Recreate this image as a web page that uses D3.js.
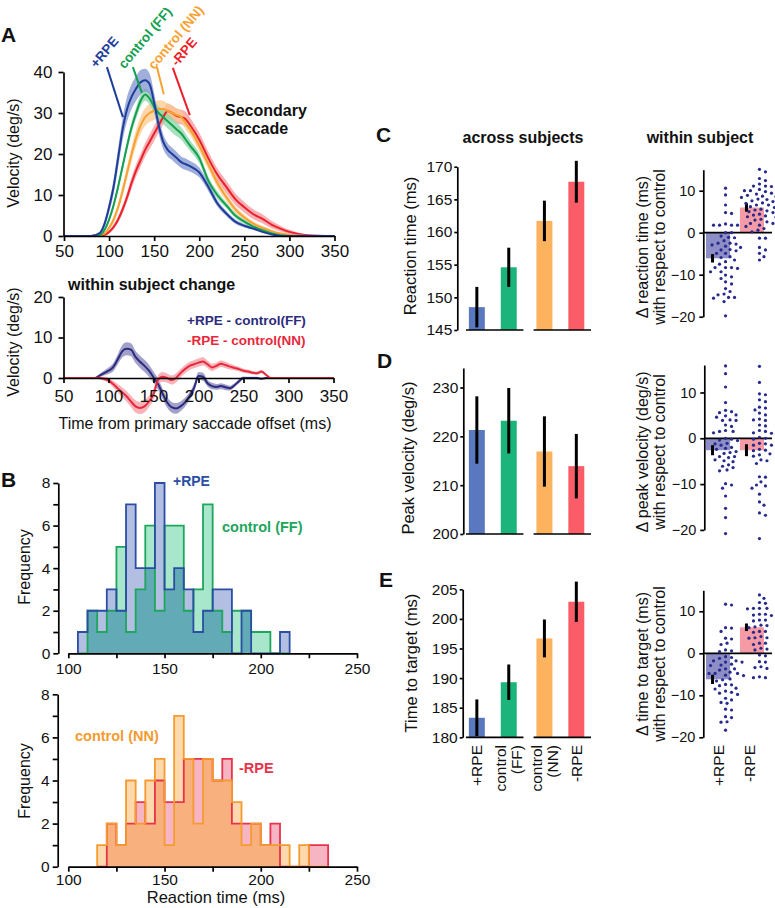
<!DOCTYPE html>
<html>
<head>
<meta charset="utf-8">
<script src="https://cdn.jsdelivr.net/npm/d3@7"></script>
<style>
  body { margin: 0; background: #fff; }
</style>
</head>
<body>
<svg id="fig" width="775" height="908"></svg>
<script>
/***********************************************************************/
// Data

// A (top): mean velocity of the secondary saccade, with s.e.m.
var tA = [50, 80, 90, 95, 100, 105, 110, 115, 120, 125, 130, 135, 140, 145, 150, 155, 160, 165, 170, 175, 180, 185, 190, 200, 210, 220, 230, 240, 250, 260, 270, 280, 290, 300, 310, 320, 350];
var velPlus  = [0, 0, 0.8, 3, 7, 12, 19, 26, 31, 34, 36, 37.5, 38, 37, 32.5, 27, 23, 21, 20, 19, 18, 17.5, 17, 15.5, 12, 8, 5.5, 3.5, 2.5, 1.8, 1, 0.4, 0, 0, 0, 0, 0];
var velFF    = [0, 0, 0.3, 1.5, 4, 7.5, 12, 17, 22, 26.5, 30, 33, 34.5, 33.5, 31.5, 30, 29, 28, 27, 26, 25, 23.5, 22, 19, 13.5, 10, 7.5, 5, 3.5, 2.3, 1.4, 0.7, 0.2, 0, 0, 0, 0];
var velNN    = [0, 0, 0.2, 0.6, 2, 4, 7, 11, 15.5, 20, 24, 27, 29, 30, 30.5, 31, 31, 30.5, 30, 29.5, 29, 27.5, 26, 22, 17.5, 13, 9.5, 6.5, 4.5, 3, 2, 1.2, 0.6, 0.3, 0.1, 0, 0];
var velMinus = [0, 0, 0.1, 0.3, 1, 2.2, 4, 6.5, 9.5, 13, 16, 18.5, 21, 23, 25, 27, 29, 30.5, 30, 29.3, 29, 28.5, 27, 23.5, 19, 15, 12, 9, 7, 5.3, 4.2, 2.8, 1.8, 1, 0.5, 0.2, 0];
var sePlus   = [0, 0, 0.3, 0.8, 1.3, 1.8, 2.3, 2.7, 3, 3, 3, 3, 2.8, 2.6, 2.3, 2, 1.8, 1.6, 1.5, 1.5, 1.4, 1.4, 1.3, 1.2, 1, 0.8, 0.6, 0.5, 0.4, 0.3, 0.2, 0.1, 0, 0, 0, 0, 0];
var seFF     = [0, 0, 0.1, 0.4, 0.6, 0.8, 1, 1.1, 1.2, 1.3, 1.4, 1.5, 1.5, 1.5, 1.5, 1.6, 1.7, 1.8, 1.8, 1.7, 1.5, 1.4, 1.3, 1.2, 1, 0.9, 0.7, 0.6, 0.5, 0.4, 0.3, 0.2, 0.1, 0, 0, 0, 0];
var seNN     = [0, 0, 0.1, 0.3, 0.5, 0.8, 1, 1.3, 1.5, 1.8, 2, 2.1, 2.2, 2.2, 2.2, 2.1, 2, 1.8, 1.7, 1.6, 1.5, 1.5, 1.4, 1.3, 1.2, 1.1, 1, 0.8, 0.7, 0.6, 0.5, 0.4, 0.3, 0.2, 0.1, 0, 0];
var seMinus  = [0, 0, 0.1, 0.2, 0.4, 0.6, 0.8, 1, 1.2, 1.4, 1.5, 1.6, 1.7, 1.8, 1.8, 1.8, 1.8, 1.8, 1.8, 1.8, 1.8, 1.8, 1.8, 1.7, 1.6, 1.5, 1.5, 1.4, 1.3, 1.2, 1.1, 0.9, 0.7, 0.5, 0.3, 0.1, 0];
var velTicks  = [0, 10, 20, 30, 40];
var timeTicks = [50, 100, 150, 200, 250, 300, 350];

// A (bottom): within subject change
var tD = [50, 80, 85, 90, 95, 100, 105, 110, 115, 120, 125, 130, 135, 140, 145, 150, 155, 160, 165, 170, 175, 180, 185, 190, 195, 200, 205, 210, 215, 220, 225, 230, 235, 240, 245, 250, 255, 260, 265, 270, 275, 280, 285, 290, 350];
var diffPlus  = [0, 0, 0, 0.6, 1.2, 1.8, 2.6, 4.5, 6.5, 7.2, 7, 5.2, 4, 3, 1.8, 0.2, -1.5, -3.8, -6, -7.2, -7.5, -7, -6, -4.5, -2.5, 0.5, 0.3, -1.3, -2, -2.2, -2, -2.3, -2.5, -1.8, -0.8, 0, 0, 0, 0, -0.2, 0, 0, 0, 0, 0];
var diffMinus = [0, 0, 0, 0, -0.2, -0.6, -1.5, -2.5, -3.5, -4.5, -5.8, -7, -7.4, -7, -5.8, -4, -0.5, 0.3, 0, -0.5, 0, 1.2, 2.2, 3, 3.4, 3.8, 4.1, 3.4, 2.6, 3, 3.5, 3.2, 2.8, 2.5, 2.2, 1.8, 1.6, 1.3, 1.2, 1.6, 0.8, 0, 0, 0, 0];
var seDiffPlus  = [0, 0, 0.2, 0.4, 0.6, 0.8, 1, 1.2, 1.5, 1.6, 1.6, 1.5, 1.5, 1.5, 1.5, 1.4, 1.4, 1.3, 1.3, 1.3, 1.3, 1.2, 1.1, 1, 1, 1, 1, 0.8, 0.8, 0.7, 0.7, 0.7, 0.6, 0.5, 0.5, 0.4, 0.3, 0.3, 0.3, 0.2, 0.2, 0.1, 0.1, 0, 0];
var seDiffMinus = [0, 0, 0.2, 0.3, 0.5, 0.6, 0.8, 1, 1.2, 1.3, 1.4, 1.5, 1.5, 1.5, 1.4, 1.3, 1.2, 1.2, 1.1, 1.1, 1.1, 1, 1, 1, 1, 1, 1, 0.9, 0.9, 0.8, 0.8, 0.8, 0.7, 0.6, 0.6, 0.5, 0.5, 0.4, 0.4, 0.4, 0.3, 0.2, 0.1, 0, 0];
var diffTicks = [0, 10, 20];

// B: reaction time histograms (5 ms bins, left edges)
var binsTop    = [105, 110, 115, 120, 125, 130, 135, 140, 145, 150, 155, 160, 165, 170, 175, 180, 185, 190, 195, 200, 205, 210];
var histPlus   = [1, 2, 2, 3, 2, 7, 4, 4, 8, 3, 4, 3, 1, 2, 3, 3, 0, 2, 0, 0, 0, 1];
var histFF     = [0, 2, 1, 2, 5, 1, 3, 6, 2, 6, 6, 2, 3, 7, 2, 1, 2, 2, 1, 1, 0, 0];
var binsBottom = [115, 120, 125, 130, 135, 140, 145, 150, 155, 160, 165, 170, 175, 180, 185, 190, 195, 200, 205, 210, 215, 220, 225, 230];
var histNN     = [1, 2, 1, 4, 2, 4, 5, 1, 7, 5, 2, 5, 4, 4, 3, 1, 2, 1, 1, 1, 0, 1, 0, 0];
var histMinus  = [0, 2, 1, 2, 3, 2, 4, 3, 3, 5, 5, 5, 4, 5, 2, 2, 2, 1, 2, 0, 0, 0, 1, 1];
var freqTicks = [0, 1, 2, 3, 4, 5, 6, 7, 8];
var rtTicks   = [100, 125, 150, 175, 200, 225, 250];

// C-E across subjects
var conditions = ['+RPE', 'control (FF)', 'control (NN)', '-RPE'];
var condGroup  = ['FF', 'FF', 'NN', 'NN'];
var rtMean = [148.5, 154.6, 161.7, 167.7];
var rtErr  = [3.1, 3.0, 3.1, 3.2];
var pvMean = [221.3, 223.2, 216.9, 213.9];
var pvErr  = [6.9, 6.7, 7.2, 6.6];
var ttMean = [183.3, 189.3, 196.7, 202.9];
var ttErr  = [3.1, 3.0, 3.2, 3.4];
var rtTicksC = [145, 150, 155, 160, 165, 170];
var pvTicksD = [200, 210, 220, 230];
var ttTicksE = [180, 185, 190, 195, 200, 205];

// C-E within subject (difference with respect to control)
var withinConds = ['+RPE', '-RPE'];
var rtDiffMean = [-6.1, 6.0],  rtDiffErr = [1.0, 1.0];
var pvDiffMean = [-2.6, -2.6], pvDiffErr = [1.1, 1.3];
var ttDiffMean = [-6.2, 6.2],  ttDiffErr = [1.1, 0.9];
var withinTicks = [-20, -10, 0, 10];

var rtDotsPlus  = [10.6, 9.0, 6.6, 4.8, 4.6, 2.1, 1.8, 1.8, 1.8, 1.8, 0, 0, -0.8, -1.1, -1.2, -1.9, -2.5, -2.7, -2.9, -2.5, -3.2, -3.5, -4.1, -4.0, -4.3, -4.9, -4.9, -5.7, -5.9, -6.5, -6.9, -7.5, -8.3, -8.3, -8.3, -8.5, -9.3, -9.3, -10.1, -10.5, -10.9, -11.7, -12.2, -13.3, -14.0, -14.6, -14.8, -15.6, -15.4, -15.4, -16.4, -19.8];
var rtDotsMinus = [15.1, 14.5, 12.9, 12.4, 11.6, 11.1, 11.1, 11.0, 10.3, 10.0, 10.0, 9.8, 9.4, 9.2, 8.9, 8.6, 8.7, 8.4, 8.0, 7.9, 7.6, 7.4, 7.1, 7.0, 6.6, 6.6, 6.2, 6.0, 5.6, 5.4, 5.2, 5.0, 4.8, 4.4, 4.2, 4.0, 3.8, 3.7, 3.2, 3.0, 2.6, 2.2, 2.2, 1.8, 1.5, 1.0, 0.6, 0.2, -1.3, -1.3, -3.5, -4.1, -4.9, -5.7, -6.5];
var pvDotsPlus  = [15.8, 14.1, 11.2, 7.8, 6.1, 5.8, 5.6, 4.9, 5.1, 4.6, 3.9, 4.0, 3.9, 2.9, 2.6, 1.5, 1.7, 1.2, 1.5, -0.4, -0.2, 0, -0.5, -1.1, -1.5, -1.2, -2.0, -2.4, -2.2, -2.9, -3.1, -3.3, -4.0, -4.2, -4.0, -4.7, -5.1, -4.9, -5.8, -6.1, -6.4, -7.1, -6.9, -9.9, -10.2, -10.9, -12.6, -15.3, -17.3, -20.8];
var pvDotsMinus = [15.7, 12.2, 9.5, 9.7, 8.4, 8.0, 6.6, 6.8, 6.2, 5.5, 5.1, 4.2, 3.9, 4.0, 2.9, 2.7, 1.5, 1.7, 1.2, 1.1, 0.2, 0, -0.2, -1.2, -1.5, -1.1, -1.5, -2.4, -2.6, -2.7, -3.4, -3.9, -3.6, -4.7, -4.9, -5.5, -8.5, -8.4, -9.5, -10.4, -10.9, -10.2, -12.2, -13.9, -14.6, -16.3, -16.8, -21.9];
var ttDotsPlus  = [11.5, 11.7, 6.0, 6.1, 5.2, 3.6, 3.4, 2.4, 2.1, 0.8, 0.4, 0.6, -0.8, -1.0, -1.2, -1.8, -2.1, -2.1, -1.8, -2.8, -2.9, -2.6, -3.7, -4.0, -3.7, -4.5, -4.8, -4.8, -4.8, -5.3, -5.2, -6.3, -6.6, -6.1, -7.4, -7.7, -7.5, -8.3, -8.5, -9.0, -9.5, -9.3, -9.8, -10.7, -11.1, -11.9, -11.7, -13.3, -13.5, -15.1, -15.3, -16.3, -16.4, -18.3];
var ttDotsMinus = [13.9, 13.1, 12.1, 11.9, 10.7, 10.6, 10.7, 10.7, 9.3, 9.3, 9.1, 9.0, 7.9, 7.7, 7.9, 6.6, 6.7, 6.3, 6.1, 5.2, 5.0, 5.2, 3.7, 4.0, 3.6, 3.7, 2.4, 2.1, 2.4, 1.0, 0.8, 1.2, -0.4, -0.6, -2.0, -2.1, -3.4, -3.6, -3.2, -5.8, -5.6, -5.8];

/***********************************************************************/
// Helpers

var FONT = 'Arial, "Liberation Sans", sans-serif';
var svg = d3.select('#fig');
svg.append('rect').attr('width', 775).attr('height', 908).attr('fill', '#fff');

function styleAxis(g, size){
  g.attr('font-family', FONT).attr('font-size', size);
  g.selectAll('path, line').attr('stroke', '#000').attr('stroke-width', 1.7);
  g.selectAll('text').attr('fill', '#111');
  return g;
}

function addText(str, x, y, o){
  o = o || {};
  var t = svg.append('text')
    .attr('x', x).attr('y', y)
    .attr('font-family', FONT)
    .attr('font-size', o.size || 16)
    .attr('font-weight', o.bold ? 'bold' : null)
    .attr('fill', o.color || '#111')
    .attr('text-anchor', o.anchor || 'start')
    .text(str);
  if(o.rotate) t.attr('transform', 'rotate(' + o.rotate + ',' + x + ',' + y + ')');
  return t;
}

// two rotated lines (y labels of the within subject panels)
function addRotLines(lines, x, y, gap){
  var t = svg.append('text')
    .attr('transform', 'translate(' + x + ',' + y + ') rotate(-90)')
    .attr('font-family', FONT).attr('font-size', 16).attr('fill', '#111')
    .attr('text-anchor', 'middle');
  lines.forEach((l, i) => { t.append('tspan').attr('x', 0).attr('y', i*gap).text(l) });
}

/***********************************************************************/
// A top: velocity traces

var xA = d3.scaleLinear().domain([50, 350]).range([64, 334.5]);
var yA = d3.scaleLinear().domain([0, 40]).range([236, 72]);

var velSeries = [
  { v: velMinus, se: seMinus, line: '#ec1f2b', band: '#f6959b' },
  { v: velNN,    se: seNN,    line: '#f7a232', band: '#fbca8e' },
  { v: velFF,    se: seFF,    line: '#12a04f', band: '#8ad5a6' },
  { v: velPlus,  se: sePlus,  line: '#1f3e9a', band: '#7f93cf' }
];

velSeries.forEach(s => {
  var band = d3.area().curve(d3.curveMonotoneX)
    .x((d, i) => xA(tA[i]))
    .y0((d, i) => yA(Math.max(0, s.v[i] - s.se[i])))
    .y1((d, i) => yA(s.v[i] + s.se[i]));
  svg.append('path').datum(s.v).attr('d', band).attr('fill', s.band).attr('fill-opacity', 0.75);
});
velSeries.forEach(s => {
  var line = d3.line().curve(d3.curveMonotoneX).x((d, i) => xA(tA[i])).y(d => yA(d));
  svg.append('path').datum(s.v).attr('d', line).attr('fill', 'none').attr('stroke', s.line).attr('stroke-width', 2);
});

styleAxis(svg.append('g').attr('transform', 'translate(63.5,0)')
  .call(d3.axisLeft(yA).tickValues(velTicks).tickSize(5).tickPadding(6).tickSizeOuter(0)), 17);
styleAxis(svg.append('g').attr('transform', 'translate(0,236)')
  .call(d3.axisBottom(xA).tickValues(timeTicks).tickSize(5).tickPadding(4).tickSizeOuter(0)), 17);

addText('Velocity (deg/s)', 19, 153, { rotate: -90, anchor: 'middle' });
addText('Secondary', 225, 116, { bold: true });
addText('saccade', 225, 134, { bold: true });

// condition labels with pointers
var pointers = [
  { txt: '+RPE',         color: '#1f3e9a', lx: 86,    ly: 40.8, x1: 97.6,  y1: 41.2, x2: 115.3, y2: 29 },
  { txt: 'control (FF)', color: '#12a04f', lx: 117,   ly: 40.6, x1: 126.4, y1: 41.2, x2: 136.4, y2: 34.9 },
  { txt: 'control (NN)', color: '#f7a232', lx: 150,   ly: 40.4, x1: 153,   y1: 41.2, x2: 160.7, y2: 34.6 },
  { txt: '-RPE',         color: '#ec1f2b', lx: 175.5, ly: 41.2, x1: 170.7, y1: 41,   x2: 189.5, y2: 29.5 }
];
pointers.forEach(p => {
  svg.append('line').attr('x1', xA(p.x1)).attr('y1', yA(p.y1)).attr('x2', xA(p.x2)).attr('y2', yA(p.y2))
    .attr('stroke', p.color).attr('stroke-width', 2);
  addText(p.txt, xA(p.lx), yA(p.ly), { bold: true, size: 13.5, color: p.color, rotate: -50 });
});

/***********************************************************************/
// A bottom: within subject change

var xD = d3.scaleLinear().domain([50, 350]).range([63.5, 333.5]);
var yD = d3.scaleLinear().domain([-10, 20]).range([418.5, 297]);

var diffSeries = [
  { v: diffPlus,  se: seDiffPlus,  line: '#2c2b7c', band: '#8b8abd' },
  { v: diffMinus, se: seDiffMinus, line: '#e8283b', band: '#f4a0a8' }
];
diffSeries.forEach(s => {
  var band = d3.area().curve(d3.curveMonotoneX)
    .x((d, i) => xD(tD[i])).y0((d, i) => yD(s.v[i] - s.se[i])).y1((d, i) => yD(s.v[i] + s.se[i]));
  svg.append('path').datum(s.v).attr('d', band).attr('fill', s.band).attr('fill-opacity', 0.8);
});
diffSeries.forEach(s => {
  var line = d3.line().curve(d3.curveMonotoneX).x((d, i) => xD(tD[i])).y(d => yD(d));
  svg.append('path').datum(s.v).attr('d', line).attr('fill', 'none').attr('stroke', s.line).attr('stroke-width', 2);
});

var yDaxis = yD.copy().domain([0, 20]).range([yD(0), yD(20)]);
styleAxis(svg.append('g').attr('transform', 'translate(63.5,0)')
  .call(d3.axisLeft(yDaxis).tickValues(diffTicks).tickSize(5).tickPadding(6).tickSizeOuter(0)), 17);
styleAxis(svg.append('g').attr('transform', 'translate(0,' + yD(0) + ')')
  .call(d3.axisBottom(xD).tickValues(timeTicks).tickSize(5).tickPadding(7).tickSizeOuter(0)), 17);

addText('within subject change', 68, 290, { bold: true });
addText('+RPE - control(FF)', 187, 325, { bold: true, size: 13.5, color: '#2c2b7c' });
addText('-RPE - control(NN)', 187, 344.5, { bold: true, size: 13.5, color: '#e8283b' });
addText('Velocity (deg/s)', 19, 342, { rotate: -90, anchor: 'middle' });
addText('Time from primary saccade offset (ms)', 195, 429, { anchor: 'middle' });

/***********************************************************************/
// B: histograms

var xB = d3.scaleLinear().domain([100, 250]).range([68.3, 357]);

function drawHist(bins, a, b, yS, cols){
  var binW = 5;
  var mk = counts => bins.map((s, i) => [s, counts[i]]).concat([[bins[bins.length-1] + binW, 0]]);
  var area = d3.area().curve(d3.curveStepAfter).x(d => xB(d[0])).y0(yS(0)).y1(d => yS(d[1]));
  var line = d3.line().curve(d3.curveStepAfter).x(d => xB(d[0])).y(d => yS(d[1]));
  var both = a.map((c, i) => Math.min(c, b[i]));
  svg.append('path').datum(mk(a)).attr('d', area).attr('fill', cols.fillA);
  svg.append('path').datum(mk(b)).attr('d', area).attr('fill', cols.fillB);
  svg.append('path').datum(mk(both)).attr('d', area).attr('fill', cols.fillBoth);
  svg.append('path').datum([[bins[0], 0]].concat(mk(a))).attr('d', line).attr('fill', 'none').attr('stroke', cols.lineA).attr('stroke-width', 1.8);
  svg.append('path').datum([[bins[0], 0]].concat(mk(b))).attr('d', line).attr('fill', 'none').attr('stroke', cols.lineB).attr('stroke-width', 1.8);
}

function histAxes(yS, yAxisX, xPad){
  styleAxis(svg.append('g').attr('transform', 'translate(' + yAxisX + ',0)')
    .call(d3.axisLeft(yS).tickValues(freqTicks).tickFormat(d => d % 2 ? '' : d).tickSize(5).tickPadding(3).tickSizeOuter(0)), 15.5);
  styleAxis(svg.append('g').attr('transform', 'translate(0,' + yS(0) + ')')
    .call(d3.axisBottom(xB).tickValues(rtTicks).tickFormat(d => d % 50 ? '' : d).tickSize(5).tickPadding(xPad).tickSizeOuter(0)), 15.5);
}

var yB1 = d3.scaleLinear().domain([0, 8]).range([653.3, 483]);
drawHist(binsTop, histFF, histPlus, yB1,
  { fillA: '#a8e7cb', fillB: '#b3bee3', fillBoth: '#63aab7', lineA: '#1ea65c', lineB: '#2a4ea3' });
histAxes(yB1, 58.3, 5);
addText('Frequency', 30, 567, { rotate: -90, anchor: 'middle' });
addText('+RPE', 173, 486, { bold: true, size: 14, color: '#2a4ea3' });
addText('control (FF)', 222, 531.5, { bold: true, size: 14.5, color: '#1ea65c' });

var yB2 = d3.scaleLinear().domain([0, 8]).range([866.7, 694.3]);
drawHist(binsBottom, histMinus, histNN, yB2,
  { fillA: '#f7b4c3', fillB: '#fdd9ad', fillBoth: '#f8b07f', lineA: '#e8334a', lineB: '#f59a2e' });
histAxes(yB2, 57.7, 2);
addText('Frequency', 30, 781, { rotate: -90, anchor: 'middle' });
addText('Reaction time (ms)', 216, 903, { anchor: 'middle', size: 16.5 });
addText('control (NN)', 75, 741, { bold: true, size: 14.5, color: '#f59a2e' });
addText('-RPE', 239, 773, { bold: true, size: 14.5, color: '#e8334a' });

/***********************************************************************/
// C-E: across subjects bars

var barColors = ['#5a78c0', '#1bb47a', '#fdb25d', '#fa5d67'];
var xGroup = d3.scaleBand().domain(['FF', 'NN']).range([466, 591]).paddingInner(0.15);
var xInner = d3.scaleBand().domain([0, 1]).range([0, xGroup.bandwidth()]).paddingInner(0.5).paddingOuter(0.15).align(0.3);
var barX = conditions.map((c, i) => xGroup(condGroup[i]) + xInner(i % 2));
var barW = xInner.bandwidth();

function acrossPanel(means, errs, domain, range, ticks, axisX, ylabel, labelX, labelY){
  var y = d3.scaleLinear().domain(domain).range(range);
  means.forEach((m, i) => {
    svg.append('rect').attr('x', barX[i]).attr('width', barW)
      .attr('y', y(m)).attr('height', y(domain[0]) - y(m)).attr('fill', barColors[i]);
  });
  means.forEach((m, i) => {
    svg.append('line').attr('x1', barX[i] + barW/2).attr('x2', barX[i] + barW/2)
      .attr('y1', y(Math.max(domain[0], m - errs[i]))).attr('y2', y(m + errs[i]))
      .attr('stroke', '#000').attr('stroke-width', 3);
  });
  ['FF', 'NN'].forEach(g => {
    svg.append('line').attr('x1', xGroup(g)).attr('x2', xGroup(g) + xGroup.bandwidth())
      .attr('y1', y(domain[0])).attr('y2', y(domain[0])).attr('stroke', '#000').attr('stroke-width', 1.7);
  });
  styleAxis(svg.append('g').attr('transform', 'translate(' + axisX + ',0)')
    .call(d3.axisLeft(y).tickValues(ticks).tickSize(3).tickPadding(2).tickSizeOuter(0)), 15.5);
  addText(ylabel, labelX, labelY, { rotate: -90, anchor: 'middle', size: 16.5 });
}

acrossPanel(rtMean, rtErr, [145, 170], [330, 166.7], rtTicksC, 457.3, 'Reaction time (ms)', 416, 246);
acrossPanel(pvMean, pvErr, [200, 234], [534, 368], pvTicksD, 463.3, 'Peak velocity (deg/s)', 414, 458);
acrossPanel(ttMean, ttErr, [180, 205], [737.3, 589.3], ttTicksE, 462.7, 'Time to target (ms)', 417, 663);

// category labels under E
conditions.forEach((c, i) => {
  var cx = barX[i] + barW/2;
  var parts = c.indexOf(' ') > 0 ? c.split(' ') : [c];
  parts.forEach((p, k) => {
    var x = cx + 5.5 + (parts.length > 1 ? (k === 0 ? -8 : 8) : 0);
    addText(p, x, 745, { rotate: -90, anchor: 'end', size: 15.5 });
  });
});

/***********************************************************************/
// C-E: within subject bars and dots

var xW = d3.scaleBand().domain(withinConds).range([706, 764]).paddingInner(0.29);
var wColors = ['#8d8ec5', '#f49ba6'];

function dodge(values, y, cx, sep){
  var placed = [];
  values.map(v => ({ y: y(v) })).sort((a, b) => a.y - b.y).forEach(p => {
    for(var k = 0; k < 60; k++){
      var off = (k % 2 ? 1 : -1) * Math.ceil(k/2) * 1.5;
      var x = cx + off;
      if(placed.every(q => (q.x - x)*(q.x - x) + (q.y - p.y)*(q.y - p.y) >= sep*sep)){ p.x = x; break; }
    }
    placed.push(p);
  });
  return placed;
}

function withinPanel(means, errs, dots, domain, range, axisX, lines, labelX, labelY){
  var y = d3.scaleLinear().domain(domain).range(range);
  means.forEach((m, i) => {
    svg.append('rect').attr('x', xW(withinConds[i])).attr('width', xW.bandwidth())
      .attr('y', Math.min(y(0), y(m))).attr('height', Math.abs(y(m) - y(0))).attr('fill', wColors[i]);
  });
  means.forEach((m, i) => {
    var ex = xW(withinConds[i]) + xW.bandwidth()/2 - 5.5;
    svg.append('line').attr('x1', ex).attr('x2', ex).attr('y1', y(m - errs[i])).attr('y2', y(m + errs[i]))
      .attr('stroke', '#000').attr('stroke-width', 3);
  });
  svg.append('line').attr('x1', axisX).attr('x2', 772).attr('y1', y(0)).attr('y2', y(0))
    .attr('stroke', '#000').attr('stroke-width', 1.7);
  dots.forEach((vals, i) => {
    var cx = xW(withinConds[i]) + xW.bandwidth()/2 + 7.5;
    dodge(vals, y, cx, 5.2).forEach(p => {
      svg.append('circle').attr('cx', p.x).attr('cy', p.y).attr('r', 1.6).attr('fill', '#262a8c');
    });
  });
  styleAxis(svg.append('g').attr('transform', 'translate(' + axisX + ',0)')
    .call(d3.axisLeft(y).tickValues(withinTicks).tickSize(4).tickPadding(4).tickSizeOuter(0)), 14.5);
  addRotLines(lines, labelX, labelY, 17);
}

withinPanel(rtDiffMean, rtDiffErr, [rtDotsPlus, rtDotsMinus], [-20, 15], [316.7, 169.7], 703.3,
  ['\u0394 reaction time (ms)', 'with respect to control'], 648, 247);
withinPanel(pvDiffMean, pvDiffErr, [pvDotsPlus, pvDotsMinus], [-20, 16], [529.9, 365], 704.3,
  ['\u0394 peak velocity (deg/s)', 'with respect to control'], 648, 452);
withinPanel(ttDiffMean, ttDiffErr, [ttDotsPlus, ttDotsMinus], [-20, 15], [737.3, 590.3], 703.3,
  ['\u0394 time to target (ms)', 'with respect to control'], 648, 664);

withinConds.forEach((c, i) => {
  addText(c, xW(c) + xW.bandwidth()/2 + 5.5 - 2*i, 745, { rotate: -90, anchor: 'end', size: 15.5 });
});

/***********************************************************************/
// Titles and panel letters

addText('across subjects', 523, 143, { bold: true, anchor: 'middle' });
addText('within subject', 700, 143, { bold: true, anchor: 'middle' });
addText('A', 1, 42, { bold: true, size: 21 });
addText('B', 1, 487, { bold: true, size: 21 });
addText('C', 376, 142, { bold: true, size: 21 });
addText('D', 377, 368, { bold: true, size: 21 });
addText('E', 379, 587, { bold: true, size: 21 });
</script>
</body>
</html>
